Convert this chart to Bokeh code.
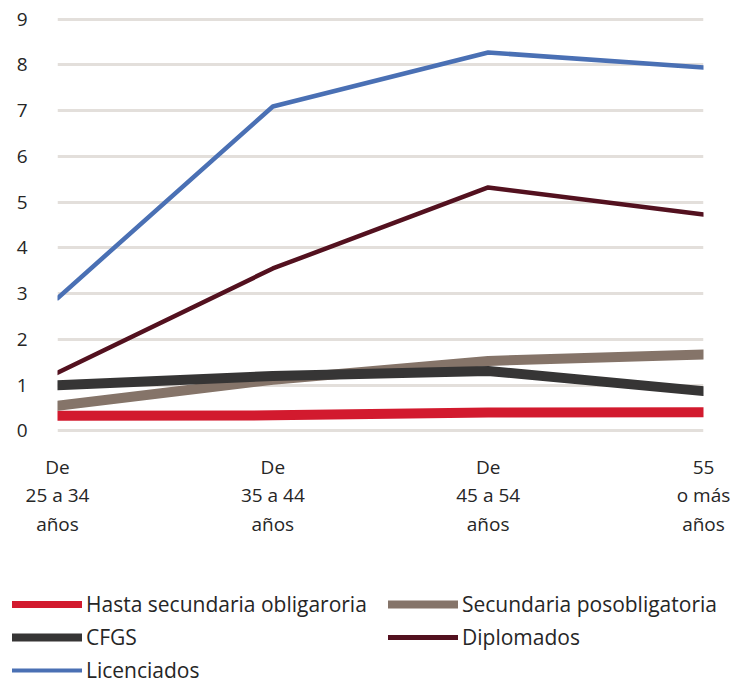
from bokeh.plotting import figure
from bokeh.layouts import column
from bokeh.models import FixedTicker, Legend, LegendItem, Range1d
from bokeh.embed import file_html
from bokeh.resources import INLINE

categories = ["De\n25 a 34\naños", "De\n35 a 44\naños", "De\n45 a 54\naños", "55\no más\naños"]
hasta_secundaria = [0.33, 0.34, 0.40, 0.41]
secundaria_pos = [0.55, 1.12, 1.53, 1.67]
cfgs = [1.00, 1.20, 1.31, 0.87]
diplomados = [1.27, 3.55, 5.32, 4.73]
licenciados = [2.90, 7.09, 8.27, 7.94]
y_ticks = list(range(0, 10))

series = [
    ("Hasta secundaria obligaroria", hasta_secundaria, "#D21A2E", 10, 7),
    ("Secundaria posobligatoria", secundaria_pos, "#857469", 10, 8),
    ("CFGS", cfgs, "#363535", 10, 8),
    ("Diplomados", diplomados, "#53111F", 4.5, 5),
    ("Licenciados", licenciados, "#4A70B4", 4.5, 4),
]

FONT = "Open Sans"
TXT = "#262626"
x = list(range(len(categories)))

p = figure(output_backend="svg", toolbar_location=None,
           frame_width=646, frame_height=421,
           min_border_left=57, min_border_right=31, min_border_top=14, min_border_bottom=131,
           x_range=Range1d(0, len(categories) - 1), y_range=Range1d(-0.1, 9.1))
p.outline_line_color = None
p.background_fill_color = "white"
p.border_fill_color = "white"

for name, vals, color, w, lw in series:
    p.line(x, vals, line_color=color, line_width=w, line_cap="round", line_join="round")

p.xgrid.grid_line_color = None
p.ygrid.grid_line_color = "#E3DFDB"
p.ygrid.grid_line_width = 3
p.ygrid.ticker = FixedTicker(ticks=y_ticks)

p.yaxis.ticker = FixedTicker(ticks=y_ticks)
p.xaxis.ticker = FixedTicker(ticks=x)
p.xaxis.major_label_overrides = {i: c for i, c in enumerate(categories)}
for ax in (p.xaxis[0], p.yaxis[0]):
    ax.axis_line_color = None
    ax.major_tick_line_color = None
    ax.minor_tick_line_color = None
    ax.major_label_text_font = FONT
    ax.major_label_text_font_size = "19px"
    ax.major_label_text_color = TXT
p.yaxis.major_label_standoff = 24
p.xaxis.major_label_standoff = 12
p.xaxis.major_label_text_line_height = 1.1

# legend panel below the chart (proxy lines lie outside the visible range)
p2 = figure(output_backend="svg", toolbar_location=None,
            frame_width=734, frame_height=118,
            min_border=0, x_range=Range1d(0, 1), y_range=Range1d(0, 1))
p2.axis.visible = False
p2.grid.visible = False
p2.outline_line_color = None
p2.border_fill_color = "white"

items = []
for name, vals, color, w, lw in series:
    r = p2.line([5, 6], [5, 6], line_color=color, line_width=lw, line_cap="round")
    items.append(LegendItem(label=name, renderers=[r]))

legend = Legend(items=items, orientation="horizontal", ncols=2,
                location=(12, 0), padding=0, margin=0, spacing=5,
                glyph_width=70, glyph_height=20, label_height=20, label_width=297,
                label_standoff=4,
                label_text_font=FONT, label_text_font_size="21px", label_text_color=TXT,
                border_line_color=None, background_fill_alpha=0)
p2.add_layout(legend, "center")

layout = column(p, p2, spacing=0)
open("out.html", "w").write(file_html(layout, INLINE))
